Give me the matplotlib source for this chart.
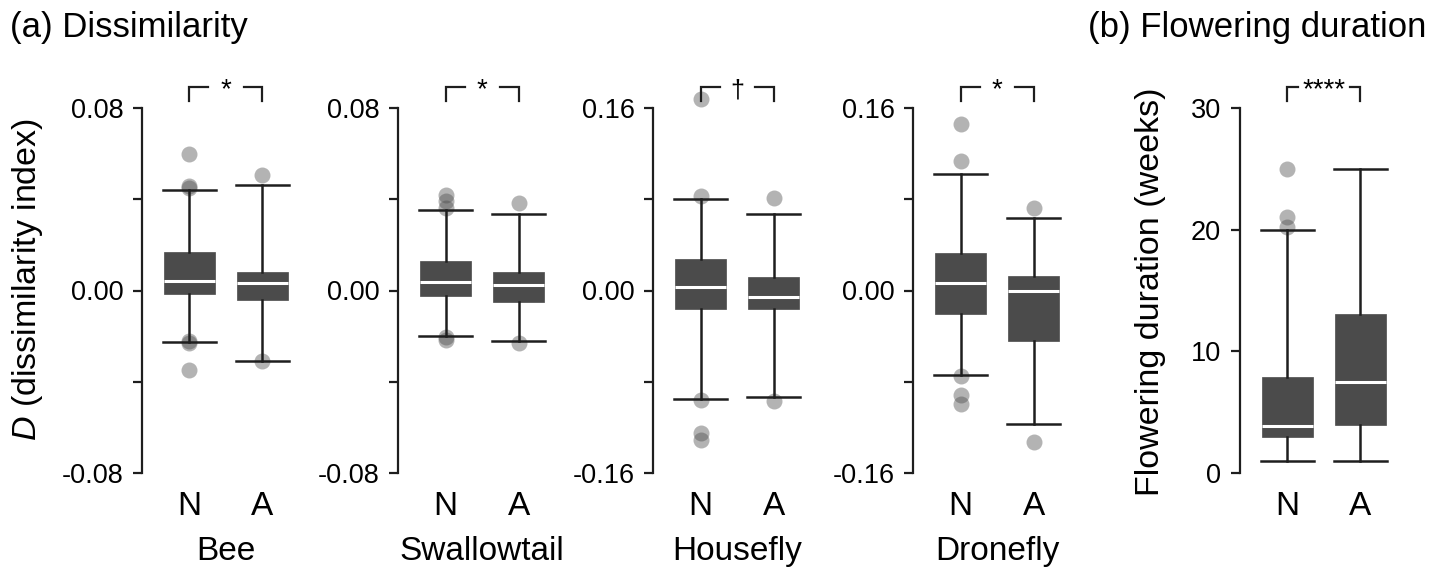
import matplotlib
matplotlib.use('Agg')
import matplotlib.pyplot as plt
from matplotlib.transforms import blended_transform_factory

plt.rcParams['font.family'] = ['Liberation Sans', 'DejaVu Sans']
plt.rcParams['mathtext.fontset'] = 'custom'
plt.rcParams['mathtext.it'] = 'Liberation Sans:italic'
plt.rcParams['mathtext.rm'] = 'Liberation Sans'

# ---------------- data ----------------
groups = ['N', 'A']
panels = ['Bee', 'Swallowtail', 'Housefly', 'Dronefly', 'Flowering']
categories = ['Bee', 'Swallowtail', 'Housefly', 'Dronefly', '']

q1 = {'Bee': [-0.0016, -0.0041], 'Swallowtail': [-0.0026, -0.0051],
      'Housefly': [-0.0160, -0.0160], 'Dronefly': [-0.0204, -0.0440],
      'Flowering': [3.0, 4.0]}
med = {'Bee': [0.0041, 0.0032], 'Swallowtail': [0.0039, 0.0022],
       'Housefly': [0.0030, -0.0055], 'Dronefly': [0.0064, -0.0003],
       'Flowering': [3.9, 7.5]}
q3 = {'Bee': [0.0169, 0.0079], 'Swallowtail': [0.0127, 0.0080],
      'Housefly': [0.0274, 0.0122], 'Dronefly': [0.0332, 0.0131],
      'Flowering': [7.9, 13.1]}
whislo = {'Bee': [-0.0226, -0.0307], 'Swallowtail': [-0.0201, -0.0223],
          'Housefly': [-0.0947, -0.0935], 'Dronefly': [-0.0737, -0.1166],
          'Flowering': [1.0, 1.0]}
whishi = {'Bee': [0.0440, 0.0462], 'Swallowtail': [0.0353, 0.0334],
          'Housefly': [0.0800, 0.0668], 'Dronefly': [0.1018, 0.0638],
          'Flowering': [20.0, 25.0]}
fliers = {'Bee': [[0.0596, 0.0456, 0.0448, -0.0222, -0.0228, -0.0347], [0.0506, -0.0310]],
          'Swallowtail': [[0.0418, 0.0390, 0.0362, -0.0205, -0.0218], [0.0385, -0.0230]],
          'Housefly': [[0.1674, 0.0828, -0.0962, -0.1247, -0.1305], [0.0808, -0.0970]],
          'Dronefly': [[0.1458, 0.1134, -0.0746, -0.0912, -0.0990], [0.0720, -0.1329]],
          'Flowering': [[25.0, 21.0, 20.2], []]}
significance = {'Bee': '*', 'Swallowtail': '*', 'Housefly': '\u2020',
                'Dronefly': '*', 'Flowering': '****'}
ylims = {'Bee': 0.08, 'Swallowtail': 0.08, 'Housefly': 0.16, 'Dronefly': 0.16,
         'Flowering': 30}

# ---------------- layout ----------------
W, H = 1442, 571
fig = plt.figure(figsize=(W / 100, H / 100), dpi=100)

def fx(px):
    return px / W

def fy(py):
    return 1 - py / H

axes_left_px = [142, 398.3, 653.3, 913.3, 1240]
ax_top, ax_bot = 107.7, 473.3
width_px = 157

box_color = '#4b4b4b'
line_color = '#1e1e1e'

for i, p in enumerate(panels):
    ax = fig.add_axes([fx(axes_left_px[i]), fy(ax_bot), width_px / W, (ax_bot - ax_top) / H])
    stats = []
    for j, g in enumerate(groups):
        stats.append(dict(med=med[p][j], q1=q1[p][j], q3=q3[p][j],
                          whislo=whislo[p][j], whishi=whishi[p][j],
                          fliers=fliers[p][j], label=g))
    art = ax.bxp(stats, positions=[1, 2], widths=0.7, capwidths=0.73,
                 patch_artist=True, showfliers=True,
                 boxprops=dict(facecolor=box_color, edgecolor=box_color, linewidth=0.5),
                 medianprops=dict(color='white', linewidth=2.2, solid_capstyle='butt'),
                 whiskerprops=dict(color=line_color, linewidth=1.8),
                 capprops=dict(color=line_color, linewidth=1.8),
                 flierprops=dict(marker='o', markerfacecolor='#4a4a4a', markeredgecolor='none',
                                 markersize=11.5, alpha=0.42, zorder=1))
    for f in art['fliers']:
        f.set_clip_on(False)

    lim = ylims[p]
    if p == 'Flowering':
        ax.set_ylim(0, lim)
        ax.set_yticks([0, 10, 20, 30])
        ax.set_yticklabels(['0', '10', '20', '30'])
        ax.spines['left'].set_bounds(0, lim)
    else:
        ax.set_ylim(-lim, lim)
        ax.set_yticks([-lim, -lim / 2, 0, lim / 2, lim])
        fmt = '{:.2f}'
        ax.set_yticklabels([fmt.format(-lim), '', '0.00', '', fmt.format(lim)])
        ax.spines['left'].set_bounds(-lim, lim)
    ax.set_xlim(0.35, 2.5)
    for s in ['top', 'right', 'bottom']:
        ax.spines[s].set_visible(False)
    ax.spines['left'].set_linewidth(1.6)
    ax.spines['left'].set_color(line_color)
    ax.tick_params(axis='y', length=6.5, width=1.6, color=line_color, pad=7, labelsize=19.5)
    ax.set_xticks([1, 2])
    ax.set_xticklabels(groups)
    ax.tick_params(axis='x', length=0, pad=13, labelsize=24)
    if categories[i]:
        ax.set_xlabel(categories[i], fontsize=24)
        ax.xaxis.set_label_coords((1.5 - 0.35) / 2.15, -0.172)

    # significance bracket
    tr = blended_transform_factory(ax.transData, ax.transAxes)
    half_gap = 0.36 if p == 'Flowering' else 0.24
    y_top, y_bot = 1.057, 1.019
    ax.plot([1, 1, 1.5 - half_gap], [y_bot, y_top, y_top], color=line_color, lw=1.6,
            transform=tr, clip_on=False, solid_joinstyle='miter')
    ax.plot([1.5 + half_gap, 2, 2], [y_top, y_top, y_bot], color=line_color, lw=1.6,
            transform=tr, clip_on=False, solid_joinstyle='miter')
    fs = 18 if p == 'Housefly' else 20
    ax.text(1.5, 1.029, significance[p], transform=tr, ha='center', va='baseline',
            fontsize=fs, clip_on=False)

fig.text(fx(28), fy(280), r'$\it{D}$ (dissimilarity index)', rotation=90,
         ha='center', va='center', fontsize=24.5)
fig.text(fx(1150), fy(292), 'Flowering duration (weeks)', rotation=90,
         ha='center', va='center', fontsize=24.5)
fig.text(fx(10), fy(27), '(a) Dissimilarity', ha='left', va='center', fontsize=25)
fig.text(fx(1088), fy(27), '(b) Flowering duration', ha='left', va='center', fontsize=25)

fig.savefig('out.png', dpi=100)
